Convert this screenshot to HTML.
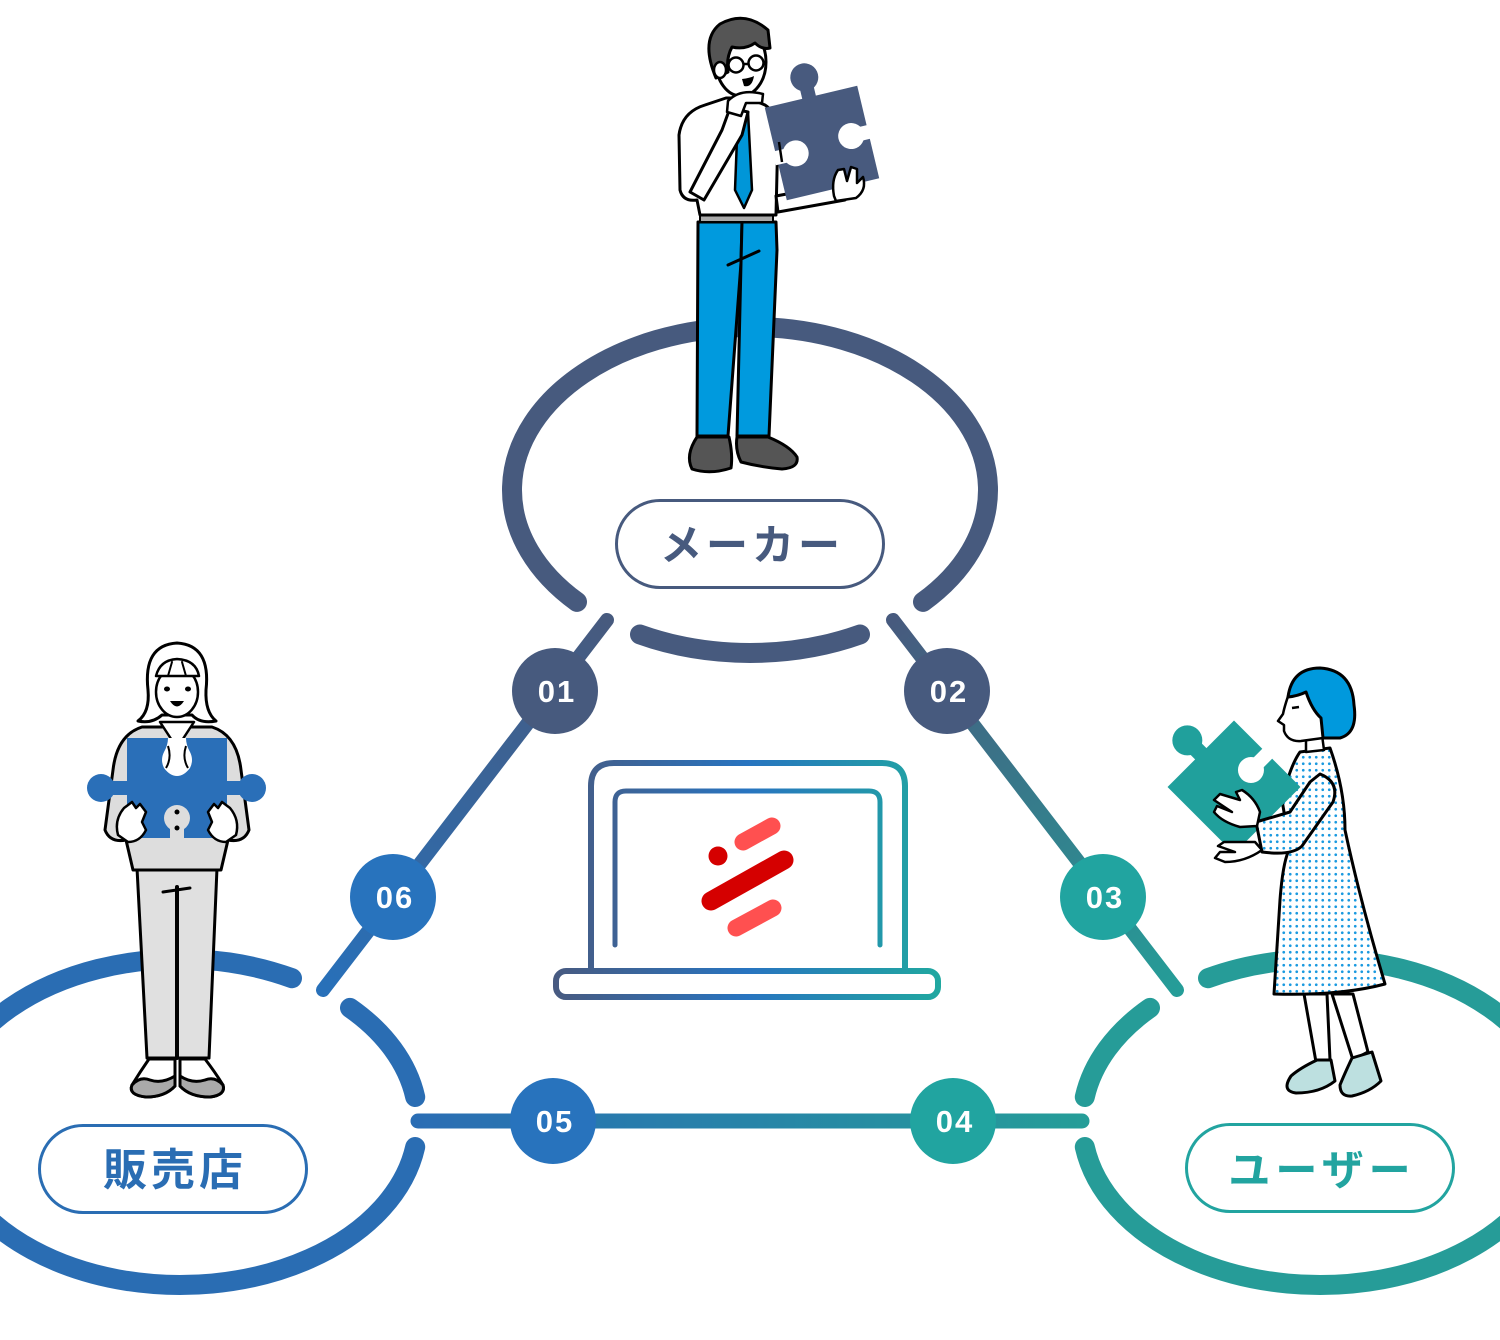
<!DOCTYPE html>
<html>
<head>
<meta charset="utf-8">
<style>
html,body{margin:0;padding:0;background:#fff;}
svg{display:block;}
.num{font-family:"Liberation Sans",sans-serif;font-weight:700;font-size:31px;fill:#fff;letter-spacing:2px;}
.lbl{font-family:"Liberation Sans","Noto Sans CJK JP",sans-serif;font-weight:700;}
</style>
</head>
<body>
<svg width="1500" height="1340" viewBox="0 0 1500 1340" xmlns="http://www.w3.org/2000/svg">
<defs>
  <linearGradient id="gL1" gradientUnits="userSpaceOnUse" x1="607" y1="620" x2="323" y2="990">
    <stop offset="0" stop-color="#475a7e"/><stop offset="1" stop-color="#2870b9"/>
  </linearGradient>
  <linearGradient id="gL2" gradientUnits="userSpaceOnUse" x1="893" y1="620" x2="1177" y2="990">
    <stop offset="0" stop-color="#475a7e"/><stop offset="1" stop-color="#259d98"/>
  </linearGradient>
  <linearGradient id="gL3" gradientUnits="userSpaceOnUse" x1="418" y1="0" x2="1082" y2="0">
    <stop offset="0" stop-color="#2a6db4"/><stop offset="0.5" stop-color="#2784a8"/><stop offset="1" stop-color="#259d98"/>
  </linearGradient>
  <linearGradient id="gLap" gradientUnits="userSpaceOnUse" x1="553" y1="0" x2="941" y2="0">
    <stop offset="0" stop-color="#485a80"/><stop offset="0.5" stop-color="#2874c0"/><stop offset="1" stop-color="#20a8a0"/>
  </linearGradient>
  <pattern id="dots" width="6.5" height="6.5" patternUnits="userSpaceOnUse">
    <rect width="6.5" height="6.5" fill="#fff"/>
    <circle cx="3.25" cy="3.25" r="1.35" fill="#1a9ae0"/>
  </pattern>
</defs>

<!-- Ellipses -->
<g fill="none" stroke-width="20" stroke-linecap="round">
  <path d="M 577 601.9 A 238 163 0 1 1 923 601.9" stroke="#475a7e"/>
  <path d="M 640 634.5 A 238 163 0 0 0 860 634.5" stroke="#475a7e"/>
  <path d="M 415.2 1147 A 238 163 0 1 1 292 978.2" stroke="#2a6db3"/>
  <path d="M 350 1007.9 A 238 163 0 0 1 415.2 1097" stroke="#2a6db3"/>
  <path d="M 1084.8 1147 A 238 163 0 1 0 1208 978.2" stroke="#269c98"/>
  <path d="M 1150 1007.9 A 238 163 0 0 0 1084.8 1097" stroke="#269c98"/>
</g>

<!-- Connector lines -->
<g fill="none" stroke-linecap="round">
  <line x1="607" y1="620" x2="323" y2="990" stroke="url(#gL1)" stroke-width="14"/>
  <line x1="893" y1="620" x2="1177" y2="990" stroke="url(#gL2)" stroke-width="14"/>
  <line x1="418" y1="1121" x2="1082" y2="1121" stroke="url(#gL3)" stroke-width="15"/>
</g>

<!-- Number circles -->
<circle cx="555" cy="691" r="43" fill="#475a7e"/>
<circle cx="947" cy="691" r="43" fill="#475a7e"/>
<circle cx="1103" cy="897" r="43" fill="#21a4a0"/>
<circle cx="953" cy="1121" r="43" fill="#21a4a0"/>
<circle cx="553" cy="1121" r="43" fill="#2873bd"/>
<circle cx="393" cy="897" r="43" fill="#2873bd"/>
<text class="num" x="557" y="702" text-anchor="middle">01</text>
<text class="num" x="949" y="702" text-anchor="middle">02</text>
<text class="num" x="1105" y="908" text-anchor="middle">03</text>
<text class="num" x="955" y="1132" text-anchor="middle">04</text>
<text class="num" x="555" y="1132" text-anchor="middle">05</text>
<text class="num" x="395" y="908" text-anchor="middle">06</text>

<!-- Labels -->
<rect x="616.5" y="500.5" width="267" height="87" rx="43.5" fill="#fff" stroke="#475a7e" stroke-width="3"/>
<text class="lbl" x="752" y="560" text-anchor="middle" font-size="42" letter-spacing="4" fill="#475a7e">メーカー</text>
<rect x="39.5" y="1125.5" width="267" height="87" rx="43.5" fill="#fff" stroke="#2a6db3" stroke-width="3"/>
<text class="lbl" x="175" y="1185" text-anchor="middle" font-size="44" letter-spacing="4" fill="#2a6db3">販売店</text>
<rect x="1186.5" y="1124.5" width="267" height="87" rx="43.5" fill="#fff" stroke="#22a4a0" stroke-width="3"/>
<text class="lbl" x="1322" y="1185" text-anchor="middle" font-size="42" letter-spacing="5" fill="#22a4a0">ユーザー</text>

<!-- Laptop -->
<g fill="none" stroke="url(#gLap)" stroke-linecap="round" stroke-linejoin="round">
  <path d="M 591 968 V 786 Q 591 763 614 763 H 882 Q 905 763 905 786 V 968" stroke-width="6"/>
  <path d="M 615 945 V 802 Q 615 791 626 791 H 869 Q 880 791 880 802 V 945" stroke-width="5"/>
  <rect x="556" y="971" width="382" height="26" rx="10" fill="#fff" stroke-width="6"/>
</g>
<!-- Logo -->
<g stroke-linecap="round">
  <line x1="743" y1="842" x2="772" y2="826" stroke="#ff5050" stroke-width="17"/>
  <line x1="711" y1="901" x2="784" y2="860" stroke="#d50000" stroke-width="19"/>
  <line x1="736" y1="928" x2="773" y2="908" stroke="#ff5050" stroke-width="17"/>
</g>
<circle cx="718" cy="856" r="9.5" fill="#d50000"/>

<!-- ===== Man (top) ===== -->
<g stroke="#000" stroke-width="3" stroke-linejoin="round" stroke-linecap="round">
  <path d="M 698 222 L 742 222 L 741 263 L 728 436 L 697 436 Z" fill="#009ade"/>
  <path d="M 742 222 L 776 222 L 777 250 L 769 436 L 737 436 L 741 263 Z" fill="#009ade"/>
  <line x1="728" y1="265" x2="759" y2="251"/>
  <path d="M 697 437 L 729 437 Q 733 455 731 468 Q 710 475 692 469 Q 685 455 697 437 Z" fill="#555"/>
  <path d="M 737 437 L 768 437 Q 790 446 797 457 Q 799 468 782 469 Q 760 467 741 462 Q 735 450 737 437 Z" fill="#555"/>
  <rect x="700" y="214" width="73" height="8" fill="#aaa" stroke-width="2"/>
  <ellipse cx="741" cy="62" rx="25" ry="34" fill="#fff"/>
  <path d="M 716 78 Q 700 40 720 24 Q 745 10 768 30 L 770 48 Q 762 50 755 43 Q 745 50 732 47 Q 726 58 728 72 Z" fill="#555"/>
  <ellipse cx="720" cy="70" rx="6" ry="8" fill="#fff" stroke-width="2.5"/>
  <path d="M 705 105 Q 682 112 679 135 L 680 190 Q 683 202 697 200 L 700 215 L 776 215 L 778 130 Q 776 112 765 105 L 748 98 L 726 98 Z" fill="#fff"/>
  <path d="M 738 112 L 748 112 L 752 190 L 744 208 L 735 190 Z" fill="#0096d8" stroke-width="2.5"/>
  <path d="M 690 192 L 722 130 L 730 108 L 748 112 L 742 135 L 704 200 Z" fill="#fff"/>
  <path d="M 728 101 Q 740 88 763 94 L 762 103 L 746 103 L 741 116 L 727 112 Z" fill="#fff" stroke-width="2.5"/>
  <path d="M 776 196 L 840 184 L 845 200 L 778 212 Z" fill="#fff"/>
</g>
<g fill="none" stroke="#000" stroke-width="2.5">
  <circle cx="736" cy="65" r="7.5"/>
  <circle cx="756" cy="63" r="7.5"/>
  <line x1="743.5" y1="64" x2="748.5" y2="64"/>
</g>
<path d="M 742 79 Q 750 78 754 76 Q 752 88 744 86 Z" fill="#000"/>
<g transform="translate(822 143) rotate(-13.4)">
  <rect x="-47.5" y="-47.5" width="95" height="95" fill="#485a7e"/>
  <rect x="-9" y="-62" width="14" height="20" fill="#485a7e"/>
  <circle cx="-2" cy="-68" r="14" fill="#485a7e"/>
  <circle cx="30" cy="0" r="13" fill="#fff"/>
  <rect x="30" y="-7" width="20" height="14" fill="#fff"/>
  <circle cx="-28" cy="4" r="13" fill="#fff"/>
  <rect x="-50" y="-3" width="22" height="14" fill="#fff"/>
</g>
<line x1="779" y1="142" x2="782" y2="162" stroke="#000" stroke-width="2.5"/>
<path d="M 834 196 Q 831 180 838 170 L 844 169 L 847 181 L 851 167 L 857 169 L 857 183 L 863 177 Q 867 190 856 198 L 836 201 Z" fill="#fff" stroke="#000" stroke-width="2.5" stroke-linejoin="round"/>

<!-- ===== Left woman ===== -->
<g stroke="#000" stroke-width="3" stroke-linejoin="round" stroke-linecap="round">
  <path d="M 137 868 L 217 868 L 209 1058 L 147 1058 Z" fill="#e0e0e0"/>
  <line x1="177" y1="887" x2="177" y2="1058" stroke-width="4"/>
  <line x1="163" y1="892" x2="190" y2="888"/>
  <path d="M 149 1059 L 175 1059 L 175 1086 Q 165 1097 146 1097 Q 128 1095 132 1085 Q 140 1072 149 1059 Z" fill="#fff"/>
  <path d="M 132 1085 Q 140 1076 150 1080 Q 162 1084 175 1076 L 175 1086 Q 165 1097 146 1097 Q 128 1095 132 1085 Z" fill="#aaa"/>
  <path d="M 180 1059 L 205 1059 Q 215 1072 223 1085 Q 226 1095 210 1097 Q 190 1097 180 1086 Z" fill="#fff"/>
  <path d="M 180 1076 Q 192 1084 205 1080 Q 215 1076 223 1085 Q 226 1095 210 1097 Q 190 1097 180 1086 Z" fill="#aaa"/>
  <path d="M 138 721 Q 150 712 148 690 Q 143 645 177 643 Q 211 645 206 690 Q 205 712 216 721 Q 200 724 192 715 L 162 715 Q 152 724 138 721 Z" fill="#fff"/>
  <path d="M 142 727 Q 117 735 113 770 L 105 830 Q 110 843 126 840 L 133 870 L 221 870 L 228 840 Q 244 843 249 830 L 241 770 Q 237 735 212 727 Z" fill="#ddd"/>
  <path d="M 160 722 L 177 748 L 194 722 Z" fill="#fff" stroke-width="2.5"/>
  <ellipse cx="177" cy="692" rx="21" ry="25" fill="#fff" stroke-width="2.5"/>
  <path d="M 156 676 Q 160 660 177 659 Q 196 660 199 676 Z" fill="#fff" stroke-width="2.5"/>
  <line x1="172" y1="662" x2="168" y2="676" stroke-width="2"/>
  <line x1="182" y1="662" x2="186" y2="676" stroke-width="2"/>
</g>
<ellipse cx="167" cy="689" rx="3" ry="2.5" fill="#000"/>
<ellipse cx="188" cy="689" rx="3" ry="2.5" fill="#000"/>
<path d="M 170 701 Q 177 712 184 701 Z" fill="#000"/>
<g fill="#2a6fb8">
  <rect x="127" y="738" width="100" height="100"/>
  <circle cx="101" cy="788" r="14"/>
  <rect x="101" y="781" width="28" height="14"/>
  <circle cx="252" cy="788" r="14"/>
  <rect x="225" y="781" width="28" height="14"/>
</g>
<!-- top notch showing shirt -->
<path d="M 168 738 L 186 738 Q 186 745 190 752 Q 194 760 190 768 Q 184 776 177 776 Q 170 776 164 768 Q 160 760 164 752 Q 168 745 168 738 Z" fill="#fff"/>
<path d="M 168 746 Q 172 758 166 768" fill="none" stroke="#000" stroke-width="2"/>
<path d="M 186 746 Q 182 758 188 768" fill="none" stroke="#000" stroke-width="2"/>
<circle cx="177" cy="818" r="13" fill="#ddd"/>
<rect x="170" y="818" width="14" height="21" fill="#ddd"/>
<circle cx="177" cy="812" r="2.5" fill="#000"/>
<circle cx="177" cy="828" r="2.5" fill="#000"/>
<g fill="#fff" stroke="#000" stroke-width="2.5" stroke-linejoin="round">
  <path d="M 118 835 Q 114 820 124 808 L 132 802 L 136 808 L 140 804 L 146 812 L 142 822 L 146 830 Q 140 842 128 842 Z"/>
  <path d="M 236 835 Q 240 820 230 808 L 222 802 L 218 808 L 214 804 L 208 812 L 212 822 L 208 830 Q 214 842 226 842 Z"/>
</g>

<!-- ===== Right woman ===== -->
<g stroke="#000" stroke-width="3" stroke-linejoin="round" stroke-linecap="round">
  <path d="M 1304 994 L 1316 1062 L 1330 1060 L 1327 994 Z" fill="#fff"/>
  <path d="M 1332 994 L 1353 1060 L 1368 1052 L 1353 994 Z" fill="#fff"/>
  <path d="M 1317 1060 Q 1300 1068 1291 1076 Q 1281 1091 1296 1093 Q 1320 1093 1335 1081 L 1331 1060 Z" fill="#bde0e0"/>
  <path d="M 1352 1058 Q 1344 1075 1340 1085 Q 1340 1097 1352 1096 Q 1370 1092 1381 1081 L 1372 1052 Z" fill="#bde0e0"/>
  <path d="M 1300 752 L 1330 748 Q 1345 790 1345 830 Q 1360 900 1385 984 Q 1340 996 1274 994 L 1280 900 Q 1283 860 1290 848 L 1282 800 Q 1290 766 1300 752 Z" fill="url(#dots)"/>
  <path d="M 1306 735 L 1306 752 L 1324 750 L 1322 735 Z" fill="#fff" stroke-width="2.5"/>
  <path d="M 1291 688 Q 1285 704 1283 714 L 1278 721 L 1284 725 L 1284 731 Q 1288 742 1301 741 L 1323 738 L 1323 698 Z" fill="#fff" stroke-width="2.5"/>
  <path d="M 1288 697 Q 1292 668 1320 668 Q 1352 670 1354 705 Q 1358 733 1340 738 L 1323 738 L 1321 718 Q 1312 710 1306 692 Q 1298 696 1288 697 Z" fill="#0099dd"/>
</g>
<line x1="1292" y1="708" x2="1299" y2="707" stroke="#000" stroke-width="2.5"/>
<g transform="translate(1234 787) rotate(45)" fill="#20a09c">
  <rect x="-47" y="-47" width="94" height="94"/>
  <circle cx="-66" cy="0" r="15"/>
  <rect x="-66" y="-8" width="22" height="16"/>
  <circle cx="0" cy="-24" r="13" fill="#fff"/>
  <rect x="-7" y="-49" width="14" height="25" fill="#fff"/>
</g>
<g stroke="#000" stroke-width="3" stroke-linejoin="round" stroke-linecap="round">
  <path d="M 1320 774 Q 1340 782 1333 802 L 1302 846 Q 1292 856 1262 852 L 1256 822 L 1290 812 L 1310 782 Z" fill="url(#dots)"/>
  <path d="M 1257 826 L 1240 827 Q 1222 822 1214 812 L 1217 806 L 1232 812 L 1214 800 L 1220 794 L 1240 800 L 1236 792 L 1242 790 Q 1255 798 1260 812 Z" fill="#fff" stroke-width="2.5"/>
  <path d="M 1262 850 Q 1245 862 1225 862 L 1215 858 L 1220 852 L 1235 852 L 1218 846 L 1224 842 L 1255 842 Z" fill="#fff" stroke-width="2.5"/>
</g>
</svg>
</body>
</html>
